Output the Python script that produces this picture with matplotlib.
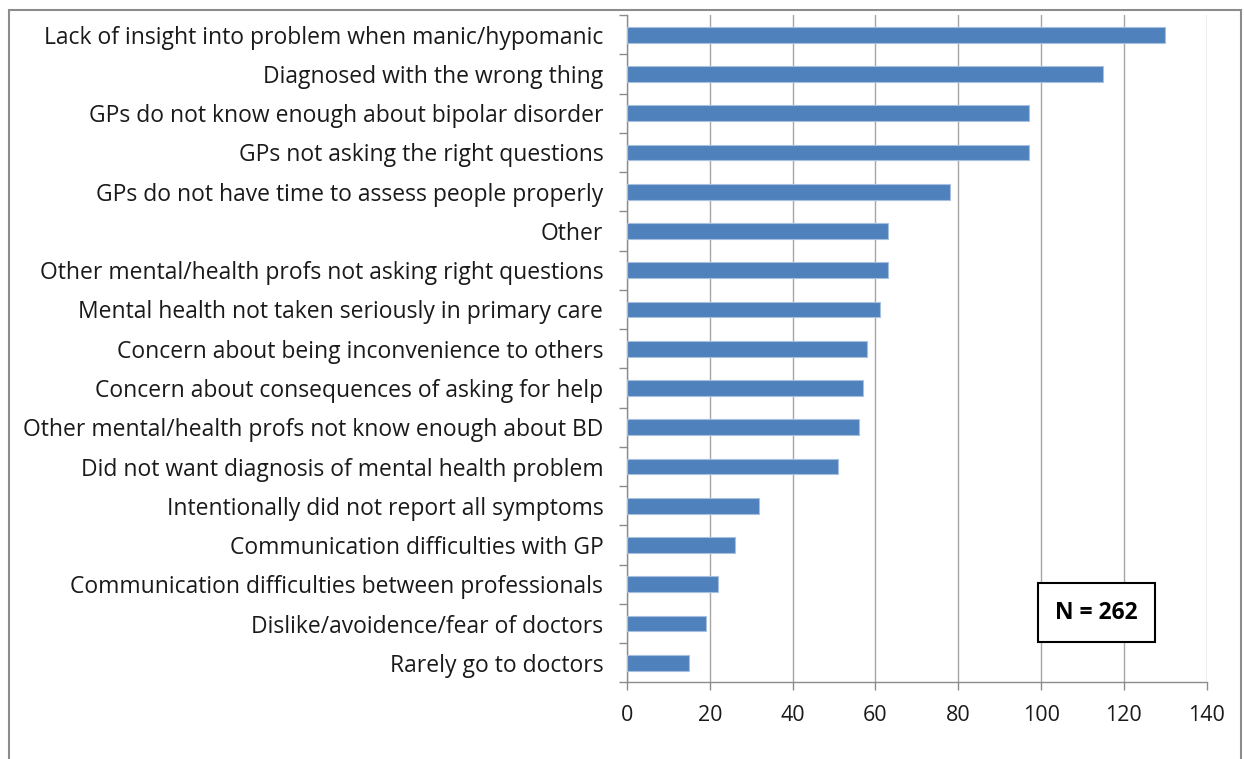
import matplotlib
matplotlib.use("Agg")
import matplotlib.pyplot as plt
from matplotlib.patches import Rectangle
import numpy as np

# categories listed top to bottom, as in the chart
categories = [
    "Lack of insight into problem when manic/hypomanic",
    "Diagnosed with the wrong thing",
    "GPs do not know enough about bipolar disorder",
    "GPs not asking the right questions",
    "GPs do not have time to assess people properly",
    "Other",
    "Other mental/health profs not asking right questions",
    "Mental health not taken seriously in primary care",
    "Concern about being inconvenience to others",
    "Concern about consequences of asking for help",
    "Other mental/health profs not know enough about BD",
    "Did not want diagnosis of mental health problem",
    "Intentionally did not report all symptoms",
    "Communication difficulties with GP",
    "Communication difficulties between professionals",
    "Dislike/avoidence/fear of doctors",
    "Rarely go to doctors",
]
counts = [130, 115, 97, 97, 78, 63, 63, 61, 58, 57, 56, 51, 32, 26, 22, 19, 15]
x_ticks = [0, 20, 40, 60, 80, 100, 120, 140]
sample_note = "N = 262"

plt.rcParams['font.family'] = ['Open Sans', 'DejaVu Sans']

fig = plt.figure(figsize=(12.44, 7.59), dpi=100)
ax = fig.add_axes([0.504, 0.1008, 0.466, 0.8794])

# outer chart frame (bottom edge runs off the picture)
fig.patches.append(Rectangle((9 / 1244, -0.05), 1232 / 1244, 1.05 - 10 / 759,
                             transform=fig.transFigure, fill=False,
                             edgecolor='#8c8c8c', linewidth=1.5))

n = len(categories)
ypos = np.arange(n)
ax.barh(ypos, counts, height=0.4, color='#4F81BD', edgecolor='#a8c0e0',
        linewidth=0.8, zorder=3)

ax.set_ylim(n - 0.5, -0.5)
ax.set_xlim(0, 140)
ax.set_xticks(x_ticks)
ax.set_xticklabels([str(t) for t in x_ticks])

ax.set_yticks(ypos)
ax.set_yticklabels(categories)
ax.set_yticks(np.arange(n + 1) - 0.5, minor=True)
ax.tick_params(axis='y', which='major', length=0, pad=17, labelsize=16.5,
               labelcolor='#1a1a1a')
ax.tick_params(axis='y', which='minor', length=6, width=1, color='#8c8c8c')
ax.tick_params(axis='x', length=6, width=1, color='#8c8c8c', pad=10,
               labelsize=15.5, labelcolor='#1a1a1a')

ax.grid(axis='x', color='#a6a6a6', linewidth=1, zorder=0)
for side in ['top', 'right']:
    ax.spines[side].set_visible(False)
for side in ['left', 'bottom']:
    ax.spines[side].set_color('#8c8c8c')
    ax.spines[side].set_linewidth(1)

ax.text(113.3, 14.72, sample_note, ha='center', va='center', fontsize=16.5,
        fontweight='bold', zorder=5,
        bbox=dict(boxstyle='square,pad=0.75', facecolor='white',
                  edgecolor='black', linewidth=1.5))

fig.savefig("out.png", dpi=100)
